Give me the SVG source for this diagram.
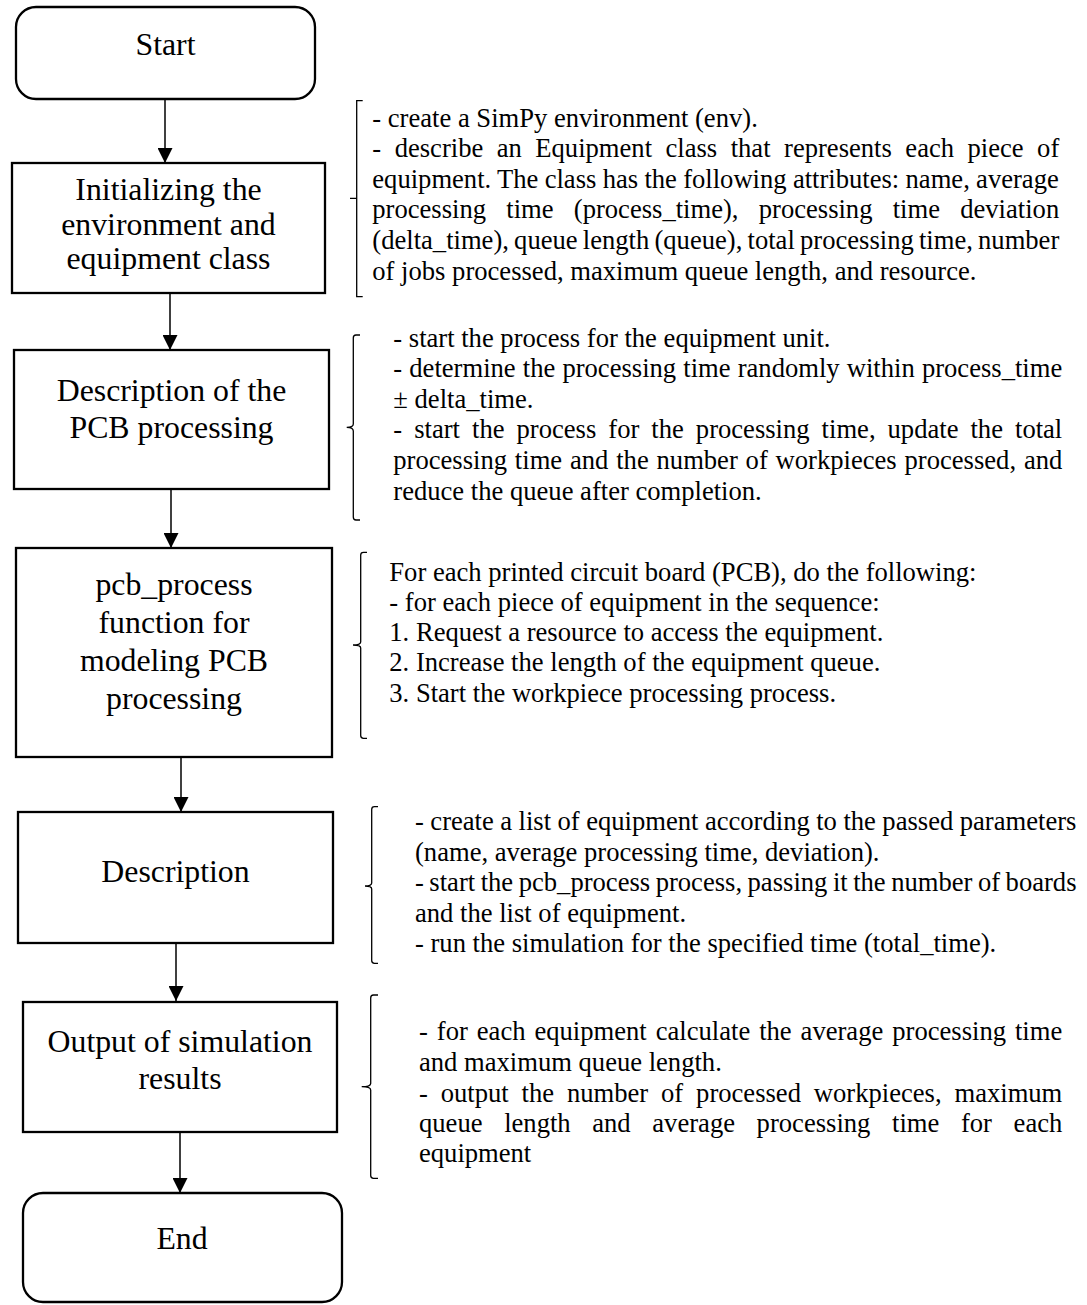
<svg xmlns="http://www.w3.org/2000/svg" width="1087" height="1305" viewBox="0 0 1087 1305">
<defs>
<marker id="ah" markerWidth="15" markerHeight="15" refX="15" refY="7.5" orient="auto" markerUnits="userSpaceOnUse">
<path d="M0,0 L15,7.5 L0,15 Z" fill="#000"/>
</marker>
<style>
.box{fill:#fff;stroke:#000;stroke-width:2.3}
.lbl{font-family:"Liberation Serif","Times New Roman",serif;font-size:31.8px;fill:#000;text-anchor:middle}
.txt{font-family:"Liberation Serif","Times New Roman",serif;font-size:26.6px;fill:#000}
.br{fill:none;stroke:#000;stroke-width:1.3}
.con{stroke:#000;stroke-width:1.5;fill:none;marker-end:url(#ah)}
</style>
</defs>
<rect width="1087" height="1305" fill="#fff"/>
<g id="connectors">
<line class="con" x1="165" y1="99" x2="165" y2="163"/>
<line class="con" x1="170" y1="293" x2="170" y2="350"/>
<line class="con" x1="171" y1="489" x2="171" y2="548"/>
<line class="con" x1="181" y1="757" x2="181" y2="812"/>
<line class="con" x1="176" y1="943" x2="176" y2="1001"/>
<line class="con" x1="180" y1="1132" x2="180" y2="1193"/>
</g>
<g id="start">
<rect class="box" x="16" y="7" width="299" height="92" rx="20"/>
<text class="lbl" x="165.5" y="55">Start</text>
</g>
<g id="init">
<rect class="box" x="12" y="163" width="313" height="130"/>
<text class="lbl" x="168.5" y="200">Initializing the</text>
<text class="lbl" x="168.5" y="234.5">environment and</text>
<text class="lbl" x="168.5" y="269">equipment class</text>
</g>
<g id="desc-pcb">
<rect class="box" x="14" y="350" width="315" height="139"/>
<text class="lbl" x="171.5" y="401">Description of the</text>
<text class="lbl" x="171.5" y="438">PCB processing</text>
</g>
<g id="pcb-process">
<rect class="box" x="16" y="548" width="316" height="209"/>
<text class="lbl" x="174" y="595">pcb_process</text>
<text class="lbl" x="174" y="633">function for</text>
<text class="lbl" x="174" y="671">modeling PCB</text>
<text class="lbl" x="174" y="709">processing</text>
</g>
<g id="description">
<rect class="box" x="18" y="812" width="315" height="131"/>
<text class="lbl" x="175.5" y="882">Description</text>
</g>
<g id="output">
<rect class="box" x="23" y="1002" width="314" height="130"/>
<text class="lbl" x="180" y="1052">Output of simulation</text>
<text class="lbl" x="180" y="1089">results</text>
</g>
<g id="end">
<rect class="box" x="23" y="1193" width="319" height="109" rx="20"/>
<text class="lbl" x="182" y="1249">End</text>
</g>
<g id="note-init">
<path class="br" d="M362.7,100.7 H356.7 V296.7 H362.7 M350,198.3 H356.7"/>
<text class="txt" x="372.3" y="126.5">- create a SimPy environment (env).</text>
<text class="txt" x="372.3" y="157" style="word-spacing:6.84px">- describe an Equipment class that represents each piece of</text>
<text class="txt" x="372.3" y="187.8" style="word-spacing:-0.35px">equipment. The class has the following attributes: name, average</text>
<text class="txt" x="372.3" y="218.3" style="word-spacing:13.6px">processing time (process_time), processing time deviation</text>
<text class="txt" x="372.3" y="249" style="word-spacing:-1.45px">(delta_time), queue length (queue), total processing time, number</text>
<text class="txt" x="372.3" y="279.7">of jobs processed, maximum queue length, and resource.</text>
</g>
<g id="note-desc">
<path class="br" d="M360,335 H356 Q353.3,335 353.3,338 V424 Q353.3,427.3 346.7,427.3 Q353.3,427.3 353.3,431 V517 Q353.3,520 356,520 H360"/>
<text class="txt" x="393.3" y="346.5">- start the process for the equipment unit.</text>
<text class="txt" x="393.3" y="377" style="word-spacing:0.5px">- determine the processing time randomly within process_time</text>
<text class="txt" x="393.3" y="407.5">± delta_time.</text>
<text class="txt" x="393.3" y="438.3" style="word-spacing:5.38px">- start the process for the processing time, update the total</text>
<text class="txt" x="393.3" y="469" style="word-spacing:1.19px">processing time and the number of workpieces processed, and</text>
<text class="txt" x="393.3" y="499.5">reduce the queue after completion.</text>
</g>
<g id="note-pcb">
<path class="br" d="M367,552.3 H363.5 Q360.7,552.3 360.7,555 V642 Q360.7,645 353,645 Q360.7,645 360.7,648 V735.5 Q360.7,738.3 363.5,738.3 H367"/>
<text class="txt" x="389.3" y="580.5">For each printed circuit board (PCB), do the following:</text>
<text class="txt" x="389.3" y="610.8">- for each piece of equipment in the sequence:</text>
<text class="txt" x="389.3" y="641">1. Request a resource to access the equipment.</text>
<text class="txt" x="389.3" y="671.3">2. Increase the length of the equipment queue.</text>
<text class="txt" x="389.3" y="701.5">3. Start the workpiece processing process.</text>
</g>
<g id="note-description">
<path class="br" d="M378,806.7 H374.5 Q371.7,806.7 371.7,809.5 V883 Q371.7,886 365,886 Q371.7,886 371.7,889 V960.5 Q371.7,963.3 374.5,963.3 H378"/>
<text class="txt" x="415" y="830" style="word-spacing:-0.17px">- create a list of equipment according to the passed parameters</text>
<text class="txt" x="415" y="860.5">(name, average processing time, deviation).</text>
<text class="txt" x="415" y="891" style="word-spacing:-1.13px">- start the pcb_process process, passing it the number of boards</text>
<text class="txt" x="415" y="921.5">and the list of equipment.</text>
<text class="txt" x="415" y="952">- run the simulation for the specified time (total_time).</text>
</g>
<g id="note-output">
<path class="br" d="M378,995 H373.5 Q370.7,995 370.7,998 V1083.5 Q370.7,1086.7 361.7,1086.7 Q370.7,1086.7 370.7,1090 V1175.5 Q370.7,1178.3 373.5,1178.3 H378"/>
<text class="txt" x="419" y="1040" style="word-spacing:2.32px">- for each equipment calculate the average processing time</text>
<text class="txt" x="419" y="1070.5">and maximum queue length.</text>
<text class="txt" x="419" y="1101.5" style="word-spacing:6.23px">- output the number of processed workpieces, maximum</text>
<text class="txt" x="419" y="1131.7" style="word-spacing:15px">queue length and average processing time for each</text>
<text class="txt" x="419" y="1162">equipment</text>
</g>
</svg>
